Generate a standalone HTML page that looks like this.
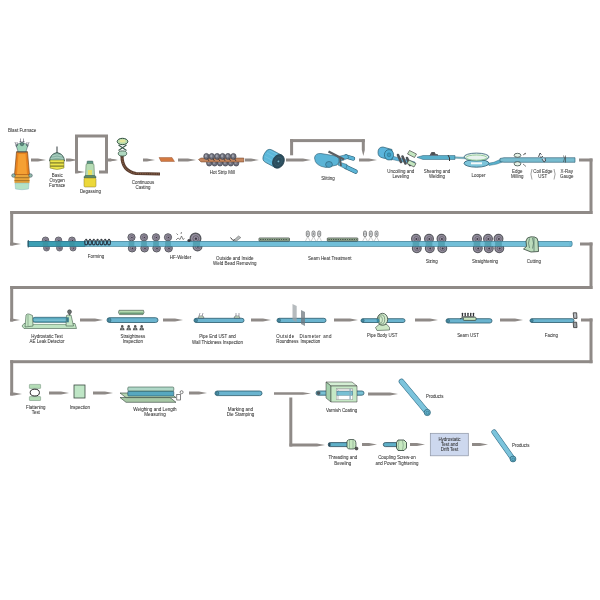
<!DOCTYPE html>
<html><head><meta charset="utf-8"><title>Pipe Manufacturing Process</title>
<style>html,body{margin:0;padding:0;background:#fff;width:600px;height:600px;overflow:hidden}
svg{display:block;filter:blur(0.4px);font-family:"Liberation Sans",sans-serif}</style></head>
<body><svg width="600" height="600" viewBox="0 0 600 600">
<rect x="579" y="158.5" width="13.5" height="3.0" fill="#8f8a87"/>
<rect x="589.5" y="158.5" width="3.0" height="55.5" fill="#8f8a87"/>
<rect x="10.2" y="211.0" width="582.3" height="3.0" fill="#8f8a87"/>
<rect x="10.2" y="211.0" width="3.0" height="34.5" fill="#8f8a87"/>
<polygon points="10.2,242.5 13,242.5 21,244 13,245.5 10.2,245.5" fill="#8f8a87"/>
<rect x="580" y="242.5" width="12.5" height="3.0" fill="#8f8a87"/>
<rect x="589.5" y="242.5" width="3.0" height="46.5" fill="#8f8a87"/>
<rect x="10.2" y="286.0" width="582.3" height="3.0" fill="#8f8a87"/>
<rect x="10.2" y="286.0" width="3.0" height="35.5" fill="#8f8a87"/>
<polygon points="10.2,318.5 12,318.5 20,320 12,321.5 10.2,321.5" fill="#8f8a87"/>
<rect x="581" y="318.5" width="11.5" height="3.0" fill="#8f8a87"/>
<rect x="589.5" y="318.5" width="3.0" height="44.69999999999999" fill="#8f8a87"/>
<rect x="10.2" y="360.2" width="582.3" height="3.0" fill="#8f8a87"/>
<rect x="10.2" y="360.2" width="3.0" height="35.30000000000001" fill="#8f8a87"/>
<polygon points="10.2,392.5 14,392.5 22,394 14,395.5 10.2,395.5" fill="#8f8a87"/>
<text x="8" y="132.00" text-anchor="start" font-size="4.6" fill="#333333" stroke="#333333" stroke-width="0.05" >Blast Furnace</text>
<path d="M14.5,175 L16.5,152 L27.5,152 L29.5,175 Z" fill="#e8821e" stroke="#7a4a20" stroke-width="0.7"/>
<path d="M18.5,154 L25.5,154 L27,174 L17,174 Z" fill="#f5a033"/>
<rect x="16.5" y="151" width="11" height="1.6" fill="#8a6a4a"/>
<path d="M14.5,175 L29.5,175 L29.5,183 L14.5,183 Z" fill="#e9a43a"/>
<rect x="14.5" y="177" width="15" height="1.2" fill="#b07a2a"/>
<rect x="14.5" y="180" width="15" height="1.2" fill="#b07a2a"/>
<path d="M15,183 L29,183 L28.5,189 Q22,190.5 15.5,189 Z" fill="#b4e2c6" stroke="#7ab" stroke-width="0.4"/>
<ellipse cx="13.5" cy="175.5" rx="1.8" ry="1.8" fill="#8fb8a8" stroke="#345" stroke-width="0.5"/>
<ellipse cx="30.5" cy="175.5" rx="1.8" ry="1.8" fill="#8fb8a8" stroke="#345" stroke-width="0.5"/>
<path d="M18,151.5 L16,145 L20,143 L24,143 L28,145 L26,151.5 Z" fill="#9ed4b8" stroke="#345" stroke-width="0.5"/>
<circle cx="22" cy="144" r="1.8" fill="#5a8a7a" stroke="#234" stroke-width="0.4"/>
<path d="M20.5,138.5 v3.5 M23.5,138.5 v3.5 M19.5,141 l1,1 l1,-1 M22.5,141 l1,1 l1,-1 M16.5,147 l-1.5,-5 M27.5,147 l1.5,-5 M17.5,146 l-0.5,-4 M26.5,146 l0.5,-4" stroke="#334" stroke-width="0.5" fill="none"/>
<polygon points="31,158.5 38,158.5 46,160 38,161.5 31,161.5" fill="#8f8a87"/>
<rect x="56.3" y="146.5" width="1.4" height="7" fill="#6d7475"/>
<path d="M49.5,161 Q50,154 57,152.5 Q64,154 64.5,161 Z" fill="#88b4a4" stroke="#2e4a44" stroke-width="0.8"/>
<path d="M52,156 Q57,153.5 62,156 M50.5,158.5 Q57,156 63.5,158.5" stroke="#c8e4d8" stroke-width="0.6" fill="none"/>
<path d="M50,160 L64,160 L64,168 Q57,171 50,168 Z" fill="#ece54a" stroke="#6a7030" stroke-width="0.5"/>
<rect x="50" y="162.3" width="14" height="1.2" fill="#7a7a2a"/>
<rect x="50" y="165.5" width="14" height="1.2" fill="#7a7a2a"/>
<text x="57.2" y="177.40" text-anchor="middle" font-size="4.45" fill="#333333" stroke="#333333" stroke-width="0.05" >Basic</text>
<text x="57.2" y="182.20" text-anchor="middle" font-size="4.45" fill="#333333" stroke="#333333" stroke-width="0.05" >Oxygen</text>
<text x="57.2" y="187.00" text-anchor="middle" font-size="4.45" fill="#333333" stroke="#333333" stroke-width="0.05" >Furnace</text>
<polygon points="66,158.5 70,158.5 78,160 70,161.5 66,161.5" fill="#8f8a87"/>
<rect x="75.0" y="135" width="3.0" height="38" fill="#8f8a87"/>
<rect x="75" y="134.5" width="33" height="3.0" fill="#8f8a87"/>
<rect x="105.0" y="135" width="3.0" height="38" fill="#8f8a87"/>
<polygon points="75,170.5 77,170.5 85,172 77,173.5 75,173.5" fill="#8f8a87"/>
<rect x="99" y="170.5" width="9" height="3.0" fill="#8f8a87"/>
<polygon points="105,158.5 110,158.5 118,160 110,161.5 105,161.5" fill="#8f8a87"/>
<rect x="87" y="161" width="6" height="3.5" rx="0.8" fill="#5e9a8a" stroke="#2e4a40" stroke-width="0.4"/>
<path d="M86,165 Q86,163.5 88,163.5 L92,163.5 Q94,163.5 94,165 L94.5,176 L85.5,176 Z" fill="#b6dcb4" stroke="#4a6a50" stroke-width="0.5"/>
<rect x="88" y="170" width="4" height="5" fill="#e8e060"/>
<path d="M84,177 Q84,175.5 86,175.5 L94,175.5 Q96,175.5 96,177 L96,178 L84,178 Z" fill="#5a8a6a" stroke="#2e4a40" stroke-width="0.4"/>
<rect x="84" y="178" width="12" height="9" rx="1.2" fill="#ecd83a" stroke="#8a7a30" stroke-width="0.5"/>
<text x="90.4" y="193.40" text-anchor="middle" font-size="4.45" fill="#333333" stroke="#333333" stroke-width="0.05" >Degassing</text>
<path d="M122,156 Q122,171 136,173.5 L160,174" stroke="#5a3e30" stroke-width="3.2" fill="none"/>
<path d="M122,156 Q122,171 136,173.5 L160,174" stroke="#a07050" stroke-width="1.2" stroke-dasharray="0.6,1.2" fill="none"/>
<ellipse cx="122.5" cy="141.5" rx="5.3" ry="3.2" fill="#b8dcb0" stroke="#2c4a3a" stroke-width="1"/>
<ellipse cx="122.5" cy="141" rx="3" ry="1.5" fill="#e4e69a"/>
<path d="M118.5,145 L126.5,150.5 M126.5,145 L118.5,150.5" stroke="#3a5a4a" stroke-width="1.1"/>
<ellipse cx="122.5" cy="153.5" rx="4.2" ry="2.6" fill="#b0d8c0" stroke="#2c4a3a" stroke-width="0.8"/>
<text x="143" y="184.40" text-anchor="middle" font-size="4.45" fill="#333333" stroke="#333333" stroke-width="0.05" >Continuous</text>
<text x="143" y="189.00" text-anchor="middle" font-size="4.45" fill="#333333" stroke="#333333" stroke-width="0.05" >Casting</text>
<polygon points="111,158.5 109,158.5 117,160 109,161.5 111,161.5" fill="#8f8a87"/>
<polygon points="143,158.5 147,158.5 155,160 147,161.5 143,161.5" fill="#8f8a87"/>
<polygon points="159,157.5 172,157.5 174.5,161.5 161,161.5" fill="#d27840" stroke="#8a4a28" stroke-width="0.4"/>
<polygon points="178,158.5 188,158.5 196,160 188,161.5 178,161.5" fill="#8f8a87"/>
<ellipse cx="209.2" cy="163" rx="2.7" ry="3.1" fill="#707280" stroke="#3a3c44" stroke-width="0.6"/>
<ellipse cx="208.6" cy="162.5" rx="1.1" ry="1.5" fill="#9a9ca6"/>
<ellipse cx="214.6" cy="163" rx="2.7" ry="3.1" fill="#707280" stroke="#3a3c44" stroke-width="0.6"/>
<ellipse cx="214.0" cy="162.5" rx="1.1" ry="1.5" fill="#9a9ca6"/>
<ellipse cx="220.0" cy="163" rx="2.7" ry="3.1" fill="#707280" stroke="#3a3c44" stroke-width="0.6"/>
<ellipse cx="219.4" cy="162.5" rx="1.1" ry="1.5" fill="#9a9ca6"/>
<ellipse cx="225.39999999999998" cy="163" rx="2.7" ry="3.1" fill="#707280" stroke="#3a3c44" stroke-width="0.6"/>
<ellipse cx="224.79999999999998" cy="162.5" rx="1.1" ry="1.5" fill="#9a9ca6"/>
<ellipse cx="230.79999999999998" cy="163" rx="2.7" ry="3.1" fill="#707280" stroke="#3a3c44" stroke-width="0.6"/>
<ellipse cx="230.2" cy="162.5" rx="1.1" ry="1.5" fill="#9a9ca6"/>
<ellipse cx="236.2" cy="163" rx="2.7" ry="3.1" fill="#707280" stroke="#3a3c44" stroke-width="0.6"/>
<ellipse cx="235.6" cy="162.5" rx="1.1" ry="1.5" fill="#9a9ca6"/>
<polygon points="198.5,159.5 201,158 243.8,158 243.8,162 201,162" fill="#c4865e" stroke="#6a3a20" stroke-width="0.5"/>
<ellipse cx="206.4" cy="156.4" rx="2.7" ry="3" fill="#6e707c" stroke="#3a3c44" stroke-width="0.6"/>
<ellipse cx="205.9" cy="156" rx="1.1" ry="1.4" fill="#a0a2ac"/>
<line x1="207.4" y1="158.5" x2="209.0" y2="161" stroke="#4a3a34" stroke-width="0.9"/>
<ellipse cx="211.8" cy="156.4" rx="2.7" ry="3" fill="#6e707c" stroke="#3a3c44" stroke-width="0.6"/>
<ellipse cx="211.3" cy="156" rx="1.1" ry="1.4" fill="#a0a2ac"/>
<line x1="212.8" y1="158.5" x2="214.4" y2="161" stroke="#4a3a34" stroke-width="0.9"/>
<ellipse cx="217.20000000000002" cy="156.4" rx="2.7" ry="3" fill="#6e707c" stroke="#3a3c44" stroke-width="0.6"/>
<ellipse cx="216.70000000000002" cy="156" rx="1.1" ry="1.4" fill="#a0a2ac"/>
<line x1="218.20000000000002" y1="158.5" x2="219.8" y2="161" stroke="#4a3a34" stroke-width="0.9"/>
<ellipse cx="222.60000000000002" cy="156.4" rx="2.7" ry="3" fill="#6e707c" stroke="#3a3c44" stroke-width="0.6"/>
<ellipse cx="222.10000000000002" cy="156" rx="1.1" ry="1.4" fill="#a0a2ac"/>
<line x1="223.60000000000002" y1="158.5" x2="225.20000000000002" y2="161" stroke="#4a3a34" stroke-width="0.9"/>
<ellipse cx="228.0" cy="156.4" rx="2.7" ry="3" fill="#6e707c" stroke="#3a3c44" stroke-width="0.6"/>
<ellipse cx="227.5" cy="156" rx="1.1" ry="1.4" fill="#a0a2ac"/>
<line x1="229.0" y1="158.5" x2="230.6" y2="161" stroke="#4a3a34" stroke-width="0.9"/>
<ellipse cx="233.4" cy="156.4" rx="2.7" ry="3" fill="#6e707c" stroke="#3a3c44" stroke-width="0.6"/>
<ellipse cx="232.9" cy="156" rx="1.1" ry="1.4" fill="#a0a2ac"/>
<line x1="234.4" y1="158.5" x2="236.0" y2="161" stroke="#4a3a34" stroke-width="0.9"/>
<text x="222.3" y="174.40" text-anchor="middle" font-size="4.45" fill="#333333" stroke="#333333" stroke-width="0.05" >Hot Strip Mill</text>
<polygon points="245,158.5 251,158.5 259,160 251,161.5 245,161.5" fill="#8f8a87"/>
<g transform="rotate(28 274 159)">
<path d="M279,152 L268,152 Q263,152 263,159 Q263,166 268,166 L279,166 Z" fill="#5cb8da" stroke="#2a5b70" stroke-width="0.6"/>
<path d="M266,153.5 h12 M265,157 h13 M265,161 h13 M266,164.5 h12" stroke="#8fd0e8" stroke-width="0.4"/>
<ellipse cx="279" cy="159" rx="5.6" ry="7.2" fill="#2b4e5e" stroke="#1d3440" stroke-width="0.6"/>
<ellipse cx="279" cy="159" rx="3.2" ry="4.4" fill="none" stroke="#3e6272" stroke-width="0.5"/>
<circle cx="279" cy="159" r="0.9" fill="#7ab8cc"/>
</g>
<polygon points="286,158.5 303,158.5 311,160 303,161.5 286,161.5" fill="#8f8a87"/>
<rect x="290.1" y="139.2" width="3.0" height="16.100000000000023" fill="#8f8a87"/>
<rect x="290.1" y="139.1" width="74.69999999999999" height="3.0" fill="#8f8a87"/>
<polygon points="361.8,139.2 364.8,139.2 364.8,150 363.3,156 361.8,150" fill="#8f8a87"/>
<line x1="346" y1="156.5" x2="353" y2="158.5" stroke="#2a5b70" stroke-width="4.4" stroke-linecap="round"/>
<line x1="346" y1="156.5" x2="353" y2="158.5" stroke="#5bb4d6" stroke-width="3.2" stroke-linecap="round"/>
<line x1="346" y1="167" x2="355.5" y2="171.5" stroke="#2a5b70" stroke-width="4.6" stroke-linecap="round"/>
<line x1="346" y1="167" x2="355.5" y2="171.5" stroke="#5bb4d6" stroke-width="3.4" stroke-linecap="round"/>
<path d="M336,157 L347,154.5 L349,158 L338,162 Z" fill="#5bb4d6" stroke="#2a5b70" stroke-width="0.5"/>
<path d="M339,162 L347,164.5 L346,169 L338,165 Z" fill="#5bb4d6" stroke="#2a5b70" stroke-width="0.5"/>
<path d="M314.5,158 Q315,153 321,153.5 L336,156 Q340,158 339,162 L337,165 L326,167.5 Q315,166 314.5,158 Z" fill="#5bb4d6" stroke="#2a5b70" stroke-width="0.6"/>
<ellipse cx="329" cy="164.5" rx="3.4" ry="3" fill="#4aa0c4" stroke="#2a5b70" stroke-width="0.6"/>
<line x1="328.5" y1="151.5" x2="344" y2="159.5" stroke="#5a5e62" stroke-width="2.4"/>
<line x1="340" y1="158" x2="341" y2="166" stroke="#55595d" stroke-width="1.8"/>
<text x="328" y="180.40" text-anchor="middle" font-size="4.45" fill="#333333" stroke="#333333" stroke-width="0.05" >Slitting</text>
<polygon points="359,158.5 369,158.5 377,160 369,161.5 359,161.5" fill="#8f8a87"/>
<polygon points="392,156 415,162 415,164.5 392,159.5" fill="#5cb5dc" stroke="#2a5b70" stroke-width="0.4"/>
<path d="M383,147 L392,149.5 L392,160 L383,158 Q378,157 378,152.5 Q378,147 383,147 Z" fill="#5cb5dc" stroke="#2a5b70" stroke-width="0.7"/>
<ellipse cx="389" cy="154.8" rx="4.6" ry="5.2" fill="#4fb0d6" stroke="#2a5b70" stroke-width="0.7"/>
<ellipse cx="389" cy="154.8" rx="1.8" ry="2" fill="#3a98bc" stroke="#2a5b70" stroke-width="0.4"/>
<line x1="398.0" y1="155.0" x2="401.0" y2="162.0" stroke="#4e5358" stroke-width="2.6" stroke-linecap="round"/>
<line x1="402.5" y1="156.5" x2="405.5" y2="163.5" stroke="#4e5358" stroke-width="2.6" stroke-linecap="round"/>
<line x1="407.0" y1="158.0" x2="410.0" y2="165.0" stroke="#4e5358" stroke-width="2.6" stroke-linecap="round"/>
<polygon points="409.5,150.5 416.5,154 414.5,157.5 407.5,154" fill="#c4e6c0" stroke="#333" stroke-width="0.6"/>
<polygon points="409,160 416,163.5 414,167 407,163.5" fill="#c4e6c0" stroke="#333" stroke-width="0.6"/>
<text x="400.7" y="172.90" text-anchor="middle" font-size="4.45" fill="#333333" stroke="#333333" stroke-width="0.05" >Uncoiling and</text>
<text x="400.7" y="177.90" text-anchor="middle" font-size="4.45" fill="#333333" stroke="#333333" stroke-width="0.05" >Leveling</text>
<polygon points="417,157.3 423,155.5 455,155.5 455,159.5 423,159.5" fill="#58b0cc" stroke="#2a5b70" stroke-width="0.5"/>
<polygon points="455,156.8 465,157.3 465,158.8 455,158.3" fill="#7ab8c8" stroke="#2a5b70" stroke-width="0.3"/>
<path d="M430,155.5 l1.5,-3 h3 l1,2 h2 v1" fill="#556" stroke="#333" stroke-width="0.6"/>
<rect x="432" y="152.5" width="2.5" height="2.5" fill="#4a5050"/>
<path d="M448,155 l1.5,3 v3" stroke="#333" stroke-width="1" fill="none"/>
<path d="M487,163.5 Q494,163 500,159.5 L504,159 L504,161.5 Q496,165 489,165.5 Z" fill="#58b0cc" stroke="#2a5b70" stroke-width="0.4"/>
<ellipse cx="476.5" cy="163.3" rx="12.5" ry="3.9" fill="#7cc4da" stroke="#2a5b70" stroke-width="0.8"/>
<rect x="471" y="162.3" width="11" height="2" fill="#f4f8f8"/>
<ellipse cx="476.5" cy="157" rx="12.5" ry="3.9" fill="#e8f2ee" stroke="#2a5b70" stroke-width="0.8"/>
<ellipse cx="476.5" cy="157.6" rx="10.5" ry="2.6" fill="none" stroke="#8cc890" stroke-width="0.9"/>
<text x="478.5" y="177.00" text-anchor="middle" font-size="4.45" fill="#333333" stroke="#333333" stroke-width="0.05" >Looper</text>
<text x="437" y="173.20" text-anchor="middle" font-size="4.45" fill="#333333" stroke="#333333" stroke-width="0.05" >Shearing and</text>
<text x="437" y="178.20" text-anchor="middle" font-size="4.45" fill="#333333" stroke="#333333" stroke-width="0.05" >Welding</text>
<polygon points="500,158.5 504,157.7 575,157.7 575,162.3 504,162.3 500,161.5" fill="#78bccf" stroke="#2a5b70" stroke-width="0.6"/>
<ellipse cx="517.5" cy="155.3" rx="3.4" ry="2" fill="#e6f2e6" stroke="#2a3a3a" stroke-width="0.7"/>
<ellipse cx="517.5" cy="163.8" rx="3.4" ry="2.1" fill="#e6f2e6" stroke="#2a3a3a" stroke-width="0.7"/>
<path d="M523,155 l3,-2 M525,153 v1.5 M523,164 l3,2.5" stroke="#333" stroke-width="0.6" fill="none"/>
<path d="M538.5,157 l1.5,-4 l1.5,1.5 M540,157 q2,1 3,-1 M542,159 l2,3 l1.5,-1 l-0.5,-3" stroke="#333" stroke-width="0.8" fill="#cde" />
<path d="M563.5,155.5 l1,3 l-1,3.5 M565.5,155.5 l0,7" stroke="#333" stroke-width="0.6" fill="none"/>
<text x="517.2" y="173.00" text-anchor="middle" font-size="4.45" fill="#333333" stroke="#333333" stroke-width="0.05" >Edge</text>
<text x="517.2" y="177.70" text-anchor="middle" font-size="4.45" fill="#333333" stroke="#333333" stroke-width="0.05" >Milling</text>
<text x="542.8" y="173.00" text-anchor="middle" font-size="4.45" fill="#333333" stroke="#333333" stroke-width="0.05" >Coil Edge</text>
<text x="542.8" y="177.70" text-anchor="middle" font-size="4.45" fill="#333333" stroke="#333333" stroke-width="0.05" >UST</text>
<path d="M532,169 Q529.8,174 532,179.5 M554,169 Q556.2,174 554,179.5" stroke="#444" stroke-width="0.5" fill="none"/>
<text x="566.7" y="173.00" text-anchor="middle" font-size="4.45" fill="#333333" stroke="#333333" stroke-width="0.05" >X-Ray</text>
<text x="566.7" y="177.70" text-anchor="middle" font-size="4.45" fill="#333333" stroke="#333333" stroke-width="0.05" >Gauge</text>
<circle cx="45.5" cy="240.3" r="3.3" fill="#9690a0" stroke="#58595f" stroke-width="0.86"/>
<circle cx="45.8" cy="240.4" r="1.81" fill="none" stroke="#5e5866" stroke-width="0.49"/>
<circle cx="45.9" cy="240.5" r="0.73" fill="#3e3844"/>
<circle cx="46.5" cy="248" r="3.0" fill="#9690a0" stroke="#58595f" stroke-width="0.78"/>
<circle cx="46.8" cy="248.1" r="1.65" fill="none" stroke="#5e5866" stroke-width="0.45"/>
<circle cx="46.9" cy="248.2" r="0.66" fill="#3e3844"/>
<circle cx="58.5" cy="240.3" r="3.3" fill="#9690a0" stroke="#58595f" stroke-width="0.86"/>
<circle cx="58.8" cy="240.4" r="1.81" fill="none" stroke="#5e5866" stroke-width="0.49"/>
<circle cx="58.9" cy="240.5" r="0.73" fill="#3e3844"/>
<circle cx="59.5" cy="248" r="3.0" fill="#9690a0" stroke="#58595f" stroke-width="0.78"/>
<circle cx="59.8" cy="248.1" r="1.65" fill="none" stroke="#5e5866" stroke-width="0.45"/>
<circle cx="59.9" cy="248.2" r="0.66" fill="#3e3844"/>
<circle cx="72" cy="240.3" r="3.3" fill="#9690a0" stroke="#58595f" stroke-width="0.86"/>
<circle cx="72.3" cy="240.4" r="1.81" fill="none" stroke="#5e5866" stroke-width="0.49"/>
<circle cx="72.4" cy="240.5" r="0.73" fill="#3e3844"/>
<circle cx="73.0" cy="248" r="3.0" fill="#9690a0" stroke="#58595f" stroke-width="0.78"/>
<circle cx="73.3" cy="248.1" r="1.65" fill="none" stroke="#5e5866" stroke-width="0.45"/>
<circle cx="73.4" cy="248.2" r="0.66" fill="#3e3844"/>
<circle cx="131.5" cy="237.3" r="3.6" fill="#9690a0" stroke="#58595f" stroke-width="0.94"/>
<circle cx="131.8" cy="237.4" r="1.98" fill="none" stroke="#5e5866" stroke-width="0.54"/>
<circle cx="131.9" cy="237.5" r="0.79" fill="#3e3844"/>
<circle cx="132.1" cy="248.2" r="3.8" fill="#9690a0" stroke="#58595f" stroke-width="0.99"/>
<circle cx="132.4" cy="248.29999999999998" r="2.09" fill="none" stroke="#5e5866" stroke-width="0.57"/>
<circle cx="132.5" cy="248.39999999999998" r="0.84" fill="#3e3844"/>
<circle cx="144" cy="237.3" r="3.6" fill="#9690a0" stroke="#58595f" stroke-width="0.94"/>
<circle cx="144.3" cy="237.4" r="1.98" fill="none" stroke="#5e5866" stroke-width="0.54"/>
<circle cx="144.4" cy="237.5" r="0.79" fill="#3e3844"/>
<circle cx="144.6" cy="248.2" r="3.8" fill="#9690a0" stroke="#58595f" stroke-width="0.99"/>
<circle cx="144.9" cy="248.29999999999998" r="2.09" fill="none" stroke="#5e5866" stroke-width="0.57"/>
<circle cx="145.0" cy="248.39999999999998" r="0.84" fill="#3e3844"/>
<circle cx="156" cy="237.3" r="3.6" fill="#9690a0" stroke="#58595f" stroke-width="0.94"/>
<circle cx="156.3" cy="237.4" r="1.98" fill="none" stroke="#5e5866" stroke-width="0.54"/>
<circle cx="156.4" cy="237.5" r="0.79" fill="#3e3844"/>
<circle cx="156.6" cy="248.2" r="3.8" fill="#9690a0" stroke="#58595f" stroke-width="0.99"/>
<circle cx="156.9" cy="248.29999999999998" r="2.09" fill="none" stroke="#5e5866" stroke-width="0.57"/>
<circle cx="157.0" cy="248.39999999999998" r="0.84" fill="#3e3844"/>
<circle cx="168" cy="237.3" r="3.6" fill="#9690a0" stroke="#58595f" stroke-width="0.94"/>
<circle cx="168.3" cy="237.4" r="1.98" fill="none" stroke="#5e5866" stroke-width="0.54"/>
<circle cx="168.4" cy="237.5" r="0.79" fill="#3e3844"/>
<circle cx="168.6" cy="248.2" r="3.8" fill="#9690a0" stroke="#58595f" stroke-width="0.99"/>
<circle cx="168.9" cy="248.29999999999998" r="2.09" fill="none" stroke="#5e5866" stroke-width="0.57"/>
<circle cx="169.0" cy="248.39999999999998" r="0.84" fill="#3e3844"/>
<circle cx="195.5" cy="238.5" r="5.3" fill="#9690a0" stroke="#58595f" stroke-width="1.38"/>
<circle cx="195.8" cy="238.6" r="2.92" fill="none" stroke="#5e5866" stroke-width="0.79"/>
<circle cx="195.9" cy="238.7" r="1.17" fill="#3e3844"/>
<circle cx="197.5" cy="246.5" r="4.4" fill="#9690a0" stroke="#58595f" stroke-width="1.14"/>
<circle cx="197.8" cy="246.6" r="2.42" fill="none" stroke="#5e5866" stroke-width="0.66"/>
<circle cx="197.9" cy="246.7" r="0.97" fill="#3e3844"/>
<circle cx="416" cy="238.8" r="4.4" fill="#9690a0" stroke="#58595f" stroke-width="1.14"/>
<circle cx="416.3" cy="238.9" r="2.42" fill="none" stroke="#5e5866" stroke-width="0.66"/>
<circle cx="416.4" cy="239.0" r="0.97" fill="#3e3844"/>
<circle cx="416.8" cy="248.3" r="4.4" fill="#9690a0" stroke="#58595f" stroke-width="1.14"/>
<circle cx="417.1" cy="248.4" r="2.42" fill="none" stroke="#5e5866" stroke-width="0.66"/>
<circle cx="417.2" cy="248.5" r="0.97" fill="#3e3844"/>
<circle cx="429" cy="238.8" r="4.4" fill="#9690a0" stroke="#58595f" stroke-width="1.14"/>
<circle cx="429.3" cy="238.9" r="2.42" fill="none" stroke="#5e5866" stroke-width="0.66"/>
<circle cx="429.4" cy="239.0" r="0.97" fill="#3e3844"/>
<circle cx="429.8" cy="248.3" r="4.4" fill="#9690a0" stroke="#58595f" stroke-width="1.14"/>
<circle cx="430.1" cy="248.4" r="2.42" fill="none" stroke="#5e5866" stroke-width="0.66"/>
<circle cx="430.2" cy="248.5" r="0.97" fill="#3e3844"/>
<circle cx="441.5" cy="238.8" r="4.4" fill="#9690a0" stroke="#58595f" stroke-width="1.14"/>
<circle cx="441.8" cy="238.9" r="2.42" fill="none" stroke="#5e5866" stroke-width="0.66"/>
<circle cx="441.9" cy="239.0" r="0.97" fill="#3e3844"/>
<circle cx="442.3" cy="248.3" r="4.4" fill="#9690a0" stroke="#58595f" stroke-width="1.14"/>
<circle cx="442.6" cy="248.4" r="2.42" fill="none" stroke="#5e5866" stroke-width="0.66"/>
<circle cx="442.7" cy="248.5" r="0.97" fill="#3e3844"/>
<circle cx="477" cy="238.8" r="4.4" fill="#9690a0" stroke="#58595f" stroke-width="1.14"/>
<circle cx="477.3" cy="238.9" r="2.42" fill="none" stroke="#5e5866" stroke-width="0.66"/>
<circle cx="477.4" cy="239.0" r="0.97" fill="#3e3844"/>
<circle cx="477.8" cy="248.3" r="4.4" fill="#9690a0" stroke="#58595f" stroke-width="1.14"/>
<circle cx="478.1" cy="248.4" r="2.42" fill="none" stroke="#5e5866" stroke-width="0.66"/>
<circle cx="478.2" cy="248.5" r="0.97" fill="#3e3844"/>
<circle cx="488" cy="238.8" r="4.4" fill="#9690a0" stroke="#58595f" stroke-width="1.14"/>
<circle cx="488.3" cy="238.9" r="2.42" fill="none" stroke="#5e5866" stroke-width="0.66"/>
<circle cx="488.4" cy="239.0" r="0.97" fill="#3e3844"/>
<circle cx="488.8" cy="248.3" r="4.4" fill="#9690a0" stroke="#58595f" stroke-width="1.14"/>
<circle cx="489.1" cy="248.4" r="2.42" fill="none" stroke="#5e5866" stroke-width="0.66"/>
<circle cx="489.2" cy="248.5" r="0.97" fill="#3e3844"/>
<circle cx="498.5" cy="238.8" r="4.4" fill="#9690a0" stroke="#58595f" stroke-width="1.14"/>
<circle cx="498.8" cy="238.9" r="2.42" fill="none" stroke="#5e5866" stroke-width="0.66"/>
<circle cx="498.9" cy="239.0" r="0.97" fill="#3e3844"/>
<circle cx="499.3" cy="248.3" r="4.4" fill="#9690a0" stroke="#58595f" stroke-width="1.14"/>
<circle cx="499.6" cy="248.4" r="2.42" fill="none" stroke="#5e5866" stroke-width="0.66"/>
<circle cx="499.7" cy="248.5" r="0.97" fill="#3e3844"/>
<rect x="28" y="241.3" width="543" height="5" rx="0" fill="#72bfd8" stroke="#2e6f86" stroke-width="0.6"/>
<rect x="28" y="241.3" width="57" height="5" fill="#3c9fb4" stroke="#2e6f86" stroke-width="0.6"/>
<rect x="570" y="241.3" width="2.2" height="5" rx="2" fill="#6cbad5" stroke="#2e6f86" stroke-width="0.6"/>
<rect x="569" y="241.6" width="2" height="4.4" fill="#6cbad5"/>
<rect x="42.86" y="241.6" width="5.28" height="4.4" fill="#3a8a98" opacity="0.55"/>
<rect x="55.86" y="241.6" width="5.28" height="4.4" fill="#3a8a98" opacity="0.55"/>
<rect x="69.36" y="241.6" width="5.28" height="4.4" fill="#3a8a98" opacity="0.55"/>
<rect x="128.62" y="241.6" width="5.76" height="4.4" fill="#3a8a98" opacity="0.55"/>
<rect x="141.12" y="241.6" width="5.76" height="4.4" fill="#3a8a98" opacity="0.55"/>
<rect x="153.12" y="241.6" width="5.76" height="4.4" fill="#3a8a98" opacity="0.55"/>
<rect x="165.12" y="241.6" width="5.76" height="4.4" fill="#3a8a98" opacity="0.55"/>
<rect x="192.90" y="241.6" width="7.20" height="4.4" fill="#3a8a98" opacity="0.55"/>
<rect x="412.64" y="241.6" width="6.72" height="4.4" fill="#3a8a98" opacity="0.55"/>
<rect x="425.64" y="241.6" width="6.72" height="4.4" fill="#3a8a98" opacity="0.55"/>
<rect x="438.14" y="241.6" width="6.72" height="4.4" fill="#3a8a98" opacity="0.55"/>
<rect x="473.64" y="241.6" width="6.72" height="4.4" fill="#3a8a98" opacity="0.55"/>
<rect x="484.64" y="241.6" width="6.72" height="4.4" fill="#3a8a98" opacity="0.55"/>
<rect x="495.14" y="241.6" width="6.72" height="4.4" fill="#3a8a98" opacity="0.55"/>
<path d="M28.3,240 v7.5" stroke="#2a5060" stroke-width="0.9"/>
<path d="M84.8,240.3 v2.6 q0,2 1.4,2 q1.4,0 1.4,-2 v-2.6" fill="none" stroke="#253a48" stroke-width="1.1"/>
<circle cx="86.2" cy="239.8" r="1.1" fill="#3a3f44"/>
<path d="M88.6,240.3 v2.6 q0,2 1.4,2 q1.4,0 1.4,-2 v-2.6" fill="none" stroke="#253a48" stroke-width="1.1"/>
<circle cx="90.0" cy="239.8" r="1.1" fill="#3a3f44"/>
<path d="M92.39999999999999,240.3 v2.6 q0,2 1.4,2 q1.4,0 1.4,-2 v-2.6" fill="none" stroke="#253a48" stroke-width="1.1"/>
<circle cx="93.8" cy="239.8" r="1.1" fill="#3a3f44"/>
<path d="M96.19999999999999,240.3 v2.6 q0,2 1.4,2 q1.4,0 1.4,-2 v-2.6" fill="none" stroke="#253a48" stroke-width="1.1"/>
<circle cx="97.6" cy="239.8" r="1.1" fill="#3a3f44"/>
<path d="M100.0,240.3 v2.6 q0,2 1.4,2 q1.4,0 1.4,-2 v-2.6" fill="none" stroke="#253a48" stroke-width="1.1"/>
<circle cx="101.4" cy="239.8" r="1.1" fill="#3a3f44"/>
<path d="M103.8,240.3 v2.6 q0,2 1.4,2 q1.4,0 1.4,-2 v-2.6" fill="none" stroke="#253a48" stroke-width="1.1"/>
<circle cx="105.2" cy="239.8" r="1.1" fill="#3a3f44"/>
<path d="M107.6,240.3 v2.6 q0,2 1.4,2 q1.4,0 1.4,-2 v-2.6" fill="none" stroke="#253a48" stroke-width="1.1"/>
<circle cx="109.0" cy="239.8" r="1.1" fill="#3a3f44"/>
<path d="M176,240 l2,-2 l2,1.5 l1.5,-3.5 l1.5,3.5 l1.5,-1 M178,235 l-1.5,-1.5 M181,234 l0.5,-2" stroke="#555" stroke-width="0.7" fill="none"/>
<circle cx="189" cy="240.5" r="1.6" fill="#3a3a40"/>
<path d="M233.5,240.5 l5,-4.5 l2.3,1.6 l-4.6,3.6 Z" fill="#b8bcbc" stroke="#555" stroke-width="0.5"/>
<path d="M230.5,237.5 l2.5,3 l1.5,-1" stroke="#333" stroke-width="0.9" fill="none"/>
<text x="96" y="258.30" text-anchor="middle" font-size="4.45" fill="#333333" stroke="#333333" stroke-width="0.05" >Forming</text>
<text x="180.5" y="259.00" text-anchor="middle" font-size="4.45" fill="#333333" stroke="#333333" stroke-width="0.05" >HF-Welder</text>
<text x="234.8" y="260.20" text-anchor="middle" font-size="4.5" fill="#333333" stroke="#333333" stroke-width="0.05" >Outside and Inside</text>
<text x="234.8" y="265.20" text-anchor="middle" font-size="4.5" fill="#333333" stroke="#333333" stroke-width="0.05" >Weld Bead Removing</text>
<rect x="259" y="238" width="30.5" height="3" rx="0.6" fill="#b4ccb0" stroke="#2a302c" stroke-width="0.7"/>
<path d="M260,239.5 h28.5" stroke="#2e3a32" stroke-width="0.8" stroke-dasharray="1.6,0.7"/>
<rect x="327.3" y="238" width="30.5" height="3" rx="0.6" fill="#b4ccb0" stroke="#2a302c" stroke-width="0.7"/>
<path d="M328.3,239.5 h28.5" stroke="#2e3a32" stroke-width="0.8" stroke-dasharray="1.6,0.7"/>
<rect x="306.3" y="231" width="3" height="5.6" rx="1.4" fill="#dfe2e4" stroke="#444" stroke-width="0.6"/>
<path d="M307.8,232.5 v2.5" stroke="#666" stroke-width="0.6"/>
<path d="M307.8,236.6 l-2.3,4.4 M307.8,236.6 l2.3,4.4" stroke="#777" stroke-width="0.35"/>
<rect x="312.0" y="231" width="3" height="5.6" rx="1.4" fill="#dfe2e4" stroke="#444" stroke-width="0.6"/>
<path d="M313.5,232.5 v2.5" stroke="#666" stroke-width="0.6"/>
<path d="M313.5,236.6 l-2.3,4.4 M313.5,236.6 l2.3,4.4" stroke="#777" stroke-width="0.35"/>
<rect x="317.7" y="231" width="3" height="5.6" rx="1.4" fill="#dfe2e4" stroke="#444" stroke-width="0.6"/>
<path d="M319.2,232.5 v2.5" stroke="#666" stroke-width="0.6"/>
<path d="M319.2,236.6 l-2.3,4.4 M319.2,236.6 l2.3,4.4" stroke="#777" stroke-width="0.35"/>
<rect x="363.5" y="231" width="3" height="5.6" rx="1.4" fill="#dfe2e4" stroke="#444" stroke-width="0.6"/>
<path d="M365,232.5 v2.5" stroke="#666" stroke-width="0.6"/>
<path d="M365,236.6 l-2.3,4.4 M365,236.6 l2.3,4.4" stroke="#777" stroke-width="0.35"/>
<rect x="369.3" y="231" width="3" height="5.6" rx="1.4" fill="#dfe2e4" stroke="#444" stroke-width="0.6"/>
<path d="M370.8,232.5 v2.5" stroke="#666" stroke-width="0.6"/>
<path d="M370.8,236.6 l-2.3,4.4 M370.8,236.6 l2.3,4.4" stroke="#777" stroke-width="0.35"/>
<rect x="375.0" y="231" width="3" height="5.6" rx="1.4" fill="#dfe2e4" stroke="#444" stroke-width="0.6"/>
<path d="M376.5,232.5 v2.5" stroke="#666" stroke-width="0.6"/>
<path d="M376.5,236.6 l-2.3,4.4 M376.5,236.6 l2.3,4.4" stroke="#777" stroke-width="0.35"/>
<text x="329.8" y="259.70" text-anchor="middle" font-size="4.45" fill="#333333" stroke="#333333" stroke-width="0.05" >Seam Heat Treatment</text>
<text x="431.7" y="263.30" text-anchor="middle" font-size="4.45" fill="#333333" stroke="#333333" stroke-width="0.05" >Sizing</text>
<text x="485" y="263.30" text-anchor="middle" font-size="4.45" fill="#333333" stroke="#333333" stroke-width="0.05" >Straightening</text>
<path d="M526,241 Q526.5,237 531,236.8 L534.5,237 Q538,237.5 538,241.5 L538.5,251.5 L531,252 L523.5,249 L526.5,246.5 Z" fill="#bcdcbc" stroke="#34443a" stroke-width="0.8"/>
<path d="M529.5,238.5 Q527.5,243 529.5,248 M532.5,238 Q534.5,243 532.5,248.5 M534,237.5 v14" stroke="#3a5a50" stroke-width="0.6" fill="none"/>
<text x="533.9" y="263.30" text-anchor="middle" font-size="4.45" fill="#333333" stroke="#333333" stroke-width="0.05" >Cutting</text>
<polygon points="22,326 24,323.5 75,323.5 76.5,328.5 24,328.5" fill="#bfe4c2" stroke="#3f5a4a" stroke-width="0.6"/>
<rect x="32" y="322" width="37" height="2.2" fill="#f4faf4" stroke="#3f5a4a" stroke-width="0.4"/>
<rect x="32.5" y="317.3" width="36.0" height="4.899999999999977" rx="2.4499999999999886" fill="#5aaac0" stroke="#2a5b70" stroke-width="0.7"/>
<rect x="34" y="319.6" width="33" height="1" fill="#8ccada"/>
<path d="M25,327 L26,315 Q26.5,313.5 29,314 L32.5,315.5 L33,326 Z" fill="#c4e6c4" stroke="#3f5a4a" stroke-width="0.6"/>
<path d="M28,315 v11" stroke="#3f5a4a" stroke-width="0.4"/>
<path d="M66,326 L66.5,315.5 Q68,314.5 71,315 L73.5,326 Z" fill="#c4e6c4" stroke="#3f5a4a" stroke-width="0.6"/>
<rect x="66.3" y="317.3" width="2.5" height="5" fill="#3a7a8a"/>
<circle cx="69.5" cy="311.8" r="2" fill="#6a7070" stroke="#333" stroke-width="0.5"/>
<rect x="68.8" y="313.5" width="1.4" height="2" fill="#555"/>
<text x="47" y="338.10" text-anchor="middle" font-size="4.45" fill="#333333" stroke="#333333" stroke-width="0.05" >Hydrostatic Test</text>
<text x="47" y="343.40" text-anchor="middle" font-size="4.45" fill="#333333" stroke="#333333" stroke-width="0.05" >AE Leak Detector</text>
<polygon points="80,318.5 95,318.5 103,320 95,321.5 80,321.5" fill="#8f8a87"/>
<rect x="107" y="317.7" width="51" height="4.800000000000011" rx="2.4000000000000057" fill="#6ab4cf" stroke="#2a5a6c" stroke-width="0.8"/>
<ellipse cx="109.4" cy="320.1" rx="1.54" ry="1.92" fill="#4a90a8" stroke="#2a5a6c" stroke-width="0.6"/>
<polygon points="119,310.3 143.5,310.3 144,312.5 143,314.6 119.5,314.6 118.5,312.5" fill="#b4dab0" stroke="#3a4a40" stroke-width="0.6"/>
<rect x="119.5" y="312.6" width="23.8" height="1.2" fill="#5a8a6a"/>
<circle cx="122.2" cy="326.3" r="1.2" fill="#555"/>
<path d="M119.9,330.3 q0,-3 2.3,-3 q2.3,0 2.3,3 Z" fill="#5a5a5a"/>
<circle cx="122.2" cy="329" r="0.8" fill="#9aa"/>
<circle cx="128.7" cy="326.3" r="1.2" fill="#555"/>
<path d="M126.39999999999999,330.3 q0,-3 2.3,-3 q2.3,0 2.3,3 Z" fill="#5a5a5a"/>
<circle cx="128.7" cy="329" r="0.8" fill="#9aa"/>
<circle cx="135.2" cy="326.3" r="1.2" fill="#555"/>
<path d="M132.89999999999998,330.3 q0,-3 2.3,-3 q2.3,0 2.3,3 Z" fill="#5a5a5a"/>
<circle cx="135.2" cy="329" r="0.8" fill="#9aa"/>
<circle cx="141.7" cy="326.3" r="1.2" fill="#555"/>
<path d="M139.39999999999998,330.3 q0,-3 2.3,-3 q2.3,0 2.3,3 Z" fill="#5a5a5a"/>
<circle cx="141.7" cy="329" r="0.8" fill="#9aa"/>
<text x="132.8" y="338.20" text-anchor="middle" font-size="4.45" fill="#333333" stroke="#333333" stroke-width="0.05" >Straightness</text>
<text x="132.8" y="343.40" text-anchor="middle" font-size="4.45" fill="#333333" stroke="#333333" stroke-width="0.05" >Inspection</text>
<polygon points="163,318.5 175,318.5 183,320 175,321.5 163,321.5" fill="#8f8a87"/>
<rect x="194" y="318.3" width="50" height="4.199999999999989" rx="2.0999999999999943" fill="#6ab4cf" stroke="#2a5a6c" stroke-width="0.8"/>
<ellipse cx="196.1" cy="320.4" rx="1.34" ry="1.68" fill="#4a90a8" stroke="#2a5a6c" stroke-width="0.6"/>
<path d="M198,318 l1,-2 l4,0 l1,2 Z M199,316 l1,-3 M202,316 l1,-3" fill="#cfe8c8" stroke="#445" stroke-width="0.5"/>
<path d="M234,318 l1,-2 l4,0 l1,2 Z M236,316 l0,-3 M239,316 l0,-3" fill="#cfe8c8" stroke="#445" stroke-width="0.5"/>
<text x="217.5" y="338.20" text-anchor="middle" font-size="4.45" fill="#333333" stroke="#333333" stroke-width="0.05" >Pipe End UST and</text>
<text x="217.5" y="343.60" text-anchor="middle" font-size="4.45" fill="#333333" stroke="#333333" stroke-width="0.05" >Wall Thickness Inspection</text>
<polygon points="251,318.5 263,318.5 271,320 263,321.5 251,321.5" fill="#8f8a87"/>
<rect x="277" y="318.3" width="49" height="4.199999999999989" rx="2.0999999999999943" fill="#6ab4cf" stroke="#2a5a6c" stroke-width="0.8"/>
<ellipse cx="279.1" cy="320.4" rx="1.34" ry="1.68" fill="#4a90a8" stroke="#2a5a6c" stroke-width="0.6"/>
<polygon points="292.5,304 296.7,306 296.7,322 292.5,320" fill="#9ea4a8" opacity="0.75"/>
<polygon points="301,310 305,312 305,326 301,324" fill="#707a80" opacity="0.75"/>
<text x="276.3" y="338.30" text-anchor="start" font-size="4.45" fill="#333333" stroke="#333333" stroke-width="0.05" letter-spacing="0.42">Outside</text>
<text x="299.6" y="338.30" text-anchor="start" font-size="4.45" fill="#333333" stroke="#333333" stroke-width="0.05" letter-spacing="0.42">Diameter</text>
<text x="323.2" y="338.30" text-anchor="start" font-size="4.45" fill="#333333" stroke="#333333" stroke-width="0.05" letter-spacing="0.42">and</text>
<text x="276.3" y="343.30" text-anchor="start" font-size="4.45" fill="#333333" stroke="#333333" stroke-width="0.05" letter-spacing="-0.05">Roundness</text>
<text x="300.5" y="343.30" text-anchor="start" font-size="4.45" fill="#333333" stroke="#333333" stroke-width="0.05" letter-spacing="-0.05">Inspection</text>
<polygon points="334,318.5 350,318.5 358,320 350,321.5 334,321.5" fill="#8f8a87"/>
<rect x="361" y="318.7" width="44" height="3.8000000000000114" rx="1.9000000000000057" fill="#6ab4cf" stroke="#2a5a6c" stroke-width="0.8"/>
<ellipse cx="362.9" cy="320.6" rx="1.22" ry="1.52" fill="#4a90a8" stroke="#2a5a6c" stroke-width="0.6"/>
<path d="M375.5,327.5 L379,324.5 L387,324.5 L389.5,327.5 L389.5,330 L377,330.5 Z" fill="#cde8c6" stroke="#3a4a40" stroke-width="0.6"/>
<ellipse cx="382.5" cy="319.3" rx="5.2" ry="6" fill="#d4ecce" stroke="#3a4a40" stroke-width="0.8"/>
<ellipse cx="381.5" cy="319.5" rx="3.2" ry="4.6" fill="none" stroke="#4a6a50" stroke-width="0.6"/>
<ellipse cx="380.8" cy="319.7" rx="1.6" ry="3.2" fill="none" stroke="#4a6a50" stroke-width="0.5"/>
<rect x="376.8" y="318.9" width="2.5" height="3.4" fill="#3a8aa0"/>
<text x="382.2" y="336.50" text-anchor="middle" font-size="4.45" fill="#333333" stroke="#333333" stroke-width="0.05" >Pipe Body UST</text>
<polygon points="415,318.5 430,318.5 438,320 430,321.5 415,321.5" fill="#8f8a87"/>
<rect x="446" y="318.7" width="46" height="4.300000000000011" rx="2.1500000000000057" fill="#6ab4cf" stroke="#2a5a6c" stroke-width="0.8"/>
<ellipse cx="448.15" cy="320.85" rx="1.38" ry="1.72" fill="#4a90a8" stroke="#2a5a6c" stroke-width="0.6"/>
<rect x="463.3" y="317.2" width="12.7" height="3.2" rx="0.8" fill="#c8e6c0" stroke="#2a3a34" stroke-width="0.7"/>
<path d="M460,319 l3,-2" stroke="#2a3a34" stroke-width="0.8"/>
<path d="M461.5,316.6 h13" stroke="#333" stroke-width="0.6"/>
<rect x="461.80" y="312.8" width="1.3" height="3.5" rx="0.5" fill="#2e3034"/>
<rect x="464.55" y="312.8" width="1.3" height="3.5" rx="0.5" fill="#2e3034"/>
<rect x="467.30" y="312.8" width="1.3" height="3.5" rx="0.5" fill="#2e3034"/>
<rect x="470.05" y="312.8" width="1.3" height="3.5" rx="0.5" fill="#2e3034"/>
<rect x="472.80" y="312.8" width="1.3" height="3.5" rx="0.5" fill="#2e3034"/>
<text x="468" y="336.50" text-anchor="middle" font-size="4.45" fill="#333333" stroke="#333333" stroke-width="0.05" >Seam UST</text>
<polygon points="500,318.5 515,318.5 523,320 515,321.5 500,321.5" fill="#8f8a87"/>
<rect x="530" y="318.7" width="44" height="3.8000000000000114" rx="1.9000000000000057" fill="#6ab4cf" stroke="#2a5a6c" stroke-width="0.8"/>
<ellipse cx="531.9" cy="320.6" rx="1.22" ry="1.52" fill="#4a90a8" stroke="#2a5a6c" stroke-width="0.6"/>
<path d="M573.2,312.8 h3.4 l0.4,5.6 h-3.2 Z" fill="#b8bcc0" stroke="#333" stroke-width="0.8"/>
<path d="M573.2,322.2 h3.4 l0.4,5.4 h-3.4 Z" fill="#9aa0a4" stroke="#333" stroke-width="0.8"/>
<text x="551.4" y="336.50" text-anchor="middle" font-size="4.45" fill="#333333" stroke="#333333" stroke-width="0.05" >Facing</text>
<rect x="29.4" y="384.4" width="11.2" height="4" rx="0.5" fill="#b4dcb6" stroke="#7a9a84" stroke-width="0.6"/>
<rect x="29.4" y="396.6" width="11.2" height="3.9" rx="0.5" fill="#b4dcb6" stroke="#7a9a84" stroke-width="0.6"/>
<ellipse cx="34.8" cy="392.6" rx="4.6" ry="3.4" fill="#fff" stroke="#111" stroke-width="0.9"/>
<text x="35.8" y="408.80" text-anchor="middle" font-size="4.45" fill="#333333" stroke="#333333" stroke-width="0.05" >Flattening</text>
<text x="35.8" y="414.30" text-anchor="middle" font-size="4.45" fill="#333333" stroke="#333333" stroke-width="0.05" >Test</text>
<polygon points="49,391.5 61,391.5 69,393 61,394.5 49,394.5" fill="#8f8a87"/>
<rect x="74" y="385" width="11" height="13" fill="#bfe6c6" stroke="#3a4a40" stroke-width="0.8"/>
<text x="79.8" y="408.80" text-anchor="middle" font-size="4.45" fill="#333333" stroke="#333333" stroke-width="0.05" >Inspection</text>
<polygon points="93,391.5 105,391.5 113,393 105,394.5 93,394.5" fill="#8f8a87"/>
<polygon points="120,397.5 170,397.5 176,402.3 126,402.3" fill="#a8c8a6" stroke="#2e3e36" stroke-width="0.6"/>
<polygon points="120,393 170,393 176,397.6 126,397.6" fill="#b4d4b0" stroke="#2e3e36" stroke-width="0.6"/>
<rect x="127.8" y="391" width="46" height="5" rx="1" fill="#56a8c0" stroke="#2a5060" stroke-width="0.6"/>
<rect x="127.8" y="387" width="46" height="4" rx="1" fill="#b0d8c8" stroke="#3a5a4a" stroke-width="0.6"/>
<rect x="176.8" y="394.5" width="3.6" height="5.5" fill="#fff" stroke="#333" stroke-width="0.6"/>
<circle cx="181.6" cy="392.2" r="1.5" fill="#fff" stroke="#333" stroke-width="0.6"/>
<text x="155" y="410.50" text-anchor="middle" font-size="4.6" fill="#333333" stroke="#333333" stroke-width="0.05" >Weighing and Length</text>
<text x="155" y="416.10" text-anchor="middle" font-size="4.6" fill="#333333" stroke="#333333" stroke-width="0.05" >Measuring</text>
<polygon points="189,391.5 199,391.5 207,393 199,394.5 189,394.5" fill="#8f8a87"/>
<rect x="215" y="391" width="47" height="4.600000000000023" rx="2.3000000000000114" fill="#6ab4cf" stroke="#2a5a6c" stroke-width="0.8"/>
<ellipse cx="217.3" cy="393.3" rx="1.47" ry="1.84" fill="#4a90a8" stroke="#2a5a6c" stroke-width="0.6"/>
<text x="240.5" y="410.50" text-anchor="middle" font-size="4.6" fill="#333333" stroke="#333333" stroke-width="0.05" >Marking and</text>
<text x="240.5" y="416.10" text-anchor="middle" font-size="4.6" fill="#333333" stroke="#333333" stroke-width="0.05" >Die Stamping</text>
<polygon points="274,392.2 303,392.2 311,393.5 303,394.8 274,394.8" fill="#8f8a87"/>
<rect x="289.3" y="397.5" width="3.0" height="49.0" fill="#8f8a87"/>
<polygon points="289.5,443.5 317,443.5 325,445 317,446.5 289.5,446.5" fill="#8f8a87"/>
<rect x="316" y="391" width="48" height="4.199999999999989" rx="2.0999999999999943" fill="#78c0d4" stroke="#2a5a6c" stroke-width="0.8"/>
<rect x="316.5" y="391.3" width="4" height="3.6" rx="1.8" fill="#4a5a60"/>
<polygon points="326,382 352,382 357,386 331,386" fill="#d4eed4" stroke="#333" stroke-width="0.5"/>
<polygon points="326,382 331,386 331,402 326,398" fill="#a4d0ac" stroke="#333" stroke-width="0.5"/>
<path d="M331,386 h26 v16 h-26 Z M336.5,388.8 h16 v10.6 h-16 Z" fill="#c6e8c6" fill-rule="evenodd" stroke="#333" stroke-width="0.5"/>
<rect x="336.5" y="388.8" width="16" height="10.6" fill="#fff"/>
<path d="M336.5,388.8 l1.5,1.2 h14.5 M338,390 v9.4" stroke="#555" stroke-width="0.4" fill="none"/>
<rect x="337" y="391.2" width="15.5" height="4" fill="#78c0d4" stroke="#2f6679" stroke-width="0.4"/>
<rect x="349.5" y="388.8" width="1.2" height="10.6" fill="#8ab"/>
<text x="341.6" y="412.30" text-anchor="middle" font-size="4.45" fill="#333333" stroke="#333333" stroke-width="0.05" >Varnish Coating</text>
<polygon points="368,392.5 390,392.5 398,394 390,395.5 368,395.5" fill="#8f8a87"/>
<line x1="401.5" y1="381.5" x2="426.5" y2="411.5" stroke="#35708a" stroke-width="5.6" stroke-linecap="round"/>
<line x1="401.5" y1="381.5" x2="426.5" y2="411.5" stroke="#7cc4dc" stroke-width="4.4" stroke-linecap="round"/>
<circle cx="427.3" cy="412.5" r="3.1" fill="#6cbad5" stroke="#2f6679" stroke-width="0.8"/>
<circle cx="427.5" cy="412.8" r="1.7" fill="#5aaac4" stroke="#2f6679" stroke-width="0.5"/>
<text x="426" y="397.50" text-anchor="start" font-size="4.45" fill="#333333" stroke="#333333" stroke-width="0.05" >Products</text>
<rect x="328.3" y="442.6" width="20.69999999999999" height="4.0" rx="2.0" fill="#5fb0c8" stroke="#2a4a5a" stroke-width="0.8"/>
<rect x="328.5" y="442.8" width="2" height="3.6" fill="#2a4a5a"/>
<path d="M347,441 q1,-1.5 3,-1.5 h3 q3,0 3,5 q0,4.5 -3,4.5 h-3 q-2,0 -3,-1.5 Z" fill="#c6e8c0" stroke="#2a3a34" stroke-width="0.7"/>
<path d="M349.5,440 v9 M353,440 v9" stroke="#5a7a6a" stroke-width="0.4"/>
<circle cx="356.5" cy="448.5" r="1.5" fill="#555" stroke="#222" stroke-width="0.5"/>
<text x="342.8" y="459.20" text-anchor="middle" font-size="4.45" fill="#333333" stroke="#333333" stroke-width="0.05" >Threading and</text>
<text x="342.8" y="464.80" text-anchor="middle" font-size="4.45" fill="#333333" stroke="#333333" stroke-width="0.05" >Beveling</text>
<polygon points="362,443.0 369,443.0 377,444.5 369,446.0 362,446.0" fill="#8f8a87"/>
<rect x="383.3" y="442.6" width="14.699999999999989" height="4.0" rx="2.0" fill="#5fb0c8" stroke="#2a4a5a" stroke-width="0.8"/>
<path d="M396.5,442.5 l1.5,-2.5 h6 l2.5,2.5 v5.5 l-2.5,2.5 h-6 l-1.5,-2.5 Z" fill="#c6e8c0" stroke="#2a3a34" stroke-width="0.8"/>
<path d="M399,440.5 q-1.5,4.5 0,10 M402.5,440.5 q1.5,4.5 0,10" stroke="#4a6a5a" stroke-width="0.4" fill="none"/>
<text x="396.9" y="459.20" text-anchor="middle" font-size="4.45" fill="#333333" stroke="#333333" stroke-width="0.05" >Coupling Screw-on</text>
<text x="396.9" y="464.80" text-anchor="middle" font-size="4.45" fill="#333333" stroke="#333333" stroke-width="0.05" >and Power Tightening</text>
<polygon points="410,443.0 417,443.0 425,444.5 417,446.0 410,446.0" fill="#8f8a87"/>
<rect x="430.3" y="433.3" width="38" height="22.5" fill="#cdd8ee" stroke="#8c94a4" stroke-width="0.7"/>
<text x="449.5" y="441.00" text-anchor="middle" font-size="4.45" fill="#333333" stroke="#333333" stroke-width="0.05" >Hydrostatic</text>
<text x="449.5" y="446.20" text-anchor="middle" font-size="4.45" fill="#333333" stroke="#333333" stroke-width="0.05" >Test and</text>
<text x="449.5" y="451.40" text-anchor="middle" font-size="4.45" fill="#333333" stroke="#333333" stroke-width="0.05" >Drift Test</text>
<polygon points="472,443.0 480,443.0 488,444.5 480,446.0 472,446.0" fill="#8f8a87"/>
<line x1="494" y1="432" x2="512" y2="457.5" stroke="#35708a" stroke-width="5.2" stroke-linecap="round"/>
<line x1="494" y1="432" x2="512" y2="457.5" stroke="#7cc4dc" stroke-width="4" stroke-linecap="round"/>
<circle cx="513" cy="459" r="2.9" fill="#6cbad5" stroke="#2f6679" stroke-width="0.8"/>
<circle cx="513.2" cy="459.3" r="1.5" fill="#5aaac4" stroke="#2f6679" stroke-width="0.5"/>
<text x="512" y="447.30" text-anchor="start" font-size="4.45" fill="#333333" stroke="#333333" stroke-width="0.05" >Products</text>
</svg></body></html>
